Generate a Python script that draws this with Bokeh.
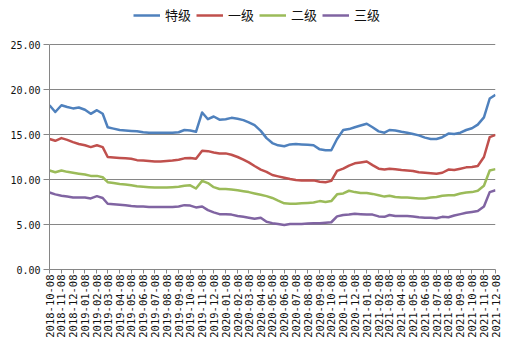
import math
import datetime as dt
from bokeh.plotting import figure
from bokeh.models import (Range1d, FixedTicker, DatetimeTickFormatter, NumeralTickFormatter,
                          Legend, LegendItem)
from bokeh.embed import file_html
from bokeh.resources import INLINE

# ---------------- data ----------------
dates = [
    "2018-10-08", "2018-10-23", "2018-11-08", "2018-11-23", "2018-12-08", "2018-12-23",
    "2019-01-08", "2019-01-23", "2019-02-08", "2019-02-23", "2019-03-08", "2019-03-23",
    "2019-04-08", "2019-04-23", "2019-05-08", "2019-05-23", "2019-06-08", "2019-06-23",
    "2019-07-08", "2019-07-23", "2019-08-08", "2019-08-23", "2019-09-08", "2019-09-23",
    "2019-10-08", "2019-10-23", "2019-11-08", "2019-11-23", "2019-12-08", "2019-12-23",
    "2020-01-08", "2020-01-23", "2020-02-08", "2020-02-23", "2020-03-08", "2020-03-23",
    "2020-04-08", "2020-04-23", "2020-05-08", "2020-05-23", "2020-06-08", "2020-06-23",
    "2020-07-08", "2020-07-23", "2020-08-08", "2020-08-23", "2020-09-08", "2020-09-23",
    "2020-10-08", "2020-10-23", "2020-11-08", "2020-11-23", "2020-12-08", "2020-12-23",
    "2021-01-08", "2021-01-23", "2021-02-08", "2021-02-23", "2021-03-08", "2021-03-23",
    "2021-04-08", "2021-04-23", "2021-05-08", "2021-05-23", "2021-06-08", "2021-06-23",
    "2021-07-08", "2021-07-23", "2021-08-08", "2021-08-23", "2021-09-08", "2021-09-23",
    "2021-10-08", "2021-10-23", "2021-11-08", "2021-11-23", "2021-12-08",
]

tick_labels = [
    "2018-10-08", "2018-11-08", "2018-12-08", "2019-01-08", "2019-02-08", "2019-03-08",
    "2019-04-08", "2019-05-08", "2019-06-08", "2019-07-08", "2019-08-08", "2019-09-08",
    "2019-10-08", "2019-11-08", "2019-12-08", "2020-01-08", "2020-02-08", "2020-03-08",
    "2020-04-08", "2020-05-08", "2020-06-08", "2020-07-08", "2020-08-08", "2020-09-08",
    "2020-10-08", "2020-11-08", "2020-12-08", "2021-01-08", "2021-02-08", "2021-03-08",
    "2021-04-08", "2021-05-08", "2021-06-08", "2021-07-08", "2021-08-08", "2021-09-08",
    "2021-10-08", "2021-11-08", "2021-12-08",
]

y_ticks = [0, 5, 10, 15, 20, 25]

series_names = ["特级", "一级", "二级", "三级"]

te_ji = [
    18.25, 17.5, 18.25, 18.05, 17.9, 18.0, 17.75, 17.3, 17.7, 17.3,
    15.8, 15.65, 15.5, 15.45, 15.4, 15.35, 15.25, 15.2, 15.2, 15.2,
    15.2, 15.2, 15.25, 15.5, 15.45, 15.3, 17.45, 16.7, 17.0, 16.65,
    16.7, 16.85, 16.75, 16.6, 16.35, 16.05, 15.4, 14.6, 14.05, 13.8,
    13.7, 13.9, 13.95, 13.9, 13.85, 13.8, 13.35, 13.25, 13.25, 14.5,
    15.5, 15.6, 15.8, 16.0, 16.2, 15.8, 15.35, 15.2, 15.5, 15.45,
    15.3, 15.2, 15.05, 14.9, 14.65, 14.5, 14.5, 14.7, 15.1, 15.05,
    15.2, 15.5, 15.7, 16.1, 16.9, 19.0, 19.4,
]

yi_ji = [
    14.5, 14.3, 14.6, 14.4, 14.15, 13.95, 13.8, 13.6, 13.8, 13.6,
    12.5, 12.45, 12.4, 12.35, 12.3, 12.15, 12.1, 12.05, 12.0, 12.0,
    12.05, 12.1, 12.2, 12.35, 12.4, 12.3, 13.2, 13.15, 13.0, 12.9,
    12.9, 12.75, 12.5, 12.2, 11.9, 11.5, 11.1, 10.85, 10.5, 10.35,
    10.2, 10.05, 9.95, 9.9, 9.9, 9.9, 9.75, 9.7, 9.85, 10.95,
    11.2, 11.55, 11.8, 11.9, 12.0, 11.6, 11.2, 11.1, 11.2, 11.15,
    11.05, 11.0, 10.95, 10.8, 10.75, 10.7, 10.65, 10.75, 11.1, 11.05,
    11.2, 11.35, 11.4, 11.5, 12.5, 14.7, 14.95,
]

er_ji = [
    11.0, 10.8, 11.0, 10.85, 10.75, 10.65, 10.55, 10.4, 10.4, 10.25,
    9.7, 9.6, 9.5, 9.45, 9.35, 9.25, 9.2, 9.15, 9.1, 9.1,
    9.1, 9.15, 9.2, 9.3, 9.35, 9.0, 9.85, 9.6, 9.15, 8.95,
    8.95, 8.9, 8.8, 8.7, 8.6, 8.45, 8.3, 8.15, 7.95, 7.65,
    7.35, 7.3, 7.3, 7.35, 7.4, 7.45, 7.6, 7.5, 7.6, 8.35,
    8.45, 8.75, 8.6, 8.5, 8.5, 8.4, 8.25, 8.1, 8.2, 8.05,
    8.0, 8.0, 7.95, 7.9, 7.9, 8.0, 8.05, 8.2, 8.25, 8.25,
    8.45, 8.55, 8.6, 8.75, 9.3, 11.0, 11.15,
]

san_ji = [
    8.55, 8.35, 8.2, 8.1, 8.0, 8.0, 8.0, 7.9, 8.15, 7.95,
    7.3, 7.25, 7.2, 7.15, 7.05, 7.0, 7.0, 6.95, 6.95, 6.95,
    6.95, 6.95, 7.0, 7.15, 7.1, 6.9, 7.0, 6.6, 6.35, 6.15,
    6.15, 6.1, 5.95, 5.85, 5.75, 5.65, 5.75, 5.3, 5.15, 5.05,
    4.95, 5.05, 5.05, 5.05, 5.1, 5.15, 5.15, 5.2, 5.25, 5.9,
    6.05, 6.1, 6.2, 6.15, 6.1, 6.1, 5.9, 5.85, 6.05, 5.95,
    5.95, 5.95, 5.9, 5.8, 5.75, 5.75, 5.7, 5.85, 5.8, 6.0,
    6.15, 6.3, 6.4, 6.5, 7.0, 8.6, 8.8,
]

colors = ["#4F81BD", "#C0504D", "#9BBB59", "#8064A2"]

# ---------------- plot ----------------
def to_dt(s):
    return dt.datetime.strptime(s, "%Y-%m-%d")

EPOCH = dt.datetime(1970, 1, 1)

def to_ms(s):
    return (to_dt(s) - EPOCH).total_seconds() * 1000.0

W, H = 511, 354
BORDER_BOTTOM = 85
PLOT_TOP_PX = 44          # pixel row of the top (25.00) gridline
frame_h = H - BORDER_BOTTOM
y_max = max(y_ticks)
# extend the y range above 25 so that the legend sits inside the frame, above the 25 gridline
y_top = y_max * frame_h / (frame_h - PLOT_TOP_PX)

x = [to_dt(d) for d in dates]

p = figure(width=W, height=H, x_axis_type="datetime",
           output_backend="svg", toolbar_location=None,
           x_range=Range1d(to_dt(tick_labels[0]), to_dt(tick_labels[-1])),
           y_range=Range1d(0, y_top),
           min_border_left=49, min_border_right=16,
           min_border_top=0, min_border_bottom=BORDER_BOTTOM)

p.outline_line_color = None
p.background_fill_color = "white"
p.border_fill_color = "white"

grey = "#868686"

# y axis
p.yaxis.ticker = FixedTicker(ticks=y_ticks)
p.yaxis.bounds = (0, y_max)
p.yaxis.formatter = NumeralTickFormatter(format="0.00")
p.yaxis.axis_line_color = grey
p.yaxis.major_tick_line_color = grey
p.yaxis.major_tick_out = 6
p.yaxis.major_tick_in = 0
p.yaxis.minor_tick_line_color = None
p.yaxis.major_label_standoff = 3
p.yaxis.major_label_text_font = "DejaVu Sans Mono"
p.yaxis.major_label_text_font_size = "10px"
p.yaxis.major_label_text_color = "#111111"

# x axis
p.xaxis.ticker = FixedTicker(ticks=[to_ms(t) for t in tick_labels])
fmt = "%Y-%m-%d"
p.xaxis.formatter = DatetimeTickFormatter(days=fmt, months=fmt, years=fmt,
                                          hours=fmt, hourmin=fmt)
p.xaxis.major_label_orientation = math.pi / 2
p.xaxis.axis_line_color = grey
p.xaxis.major_tick_line_color = grey
p.xaxis.major_tick_out = 4
p.xaxis.major_tick_in = 0
p.xaxis.minor_tick_line_color = None
p.xaxis.major_label_standoff = 1
p.xaxis.major_label_text_font = "DejaVu Sans Mono"
p.xaxis.major_label_text_font_size = "10.5px"
p.xaxis.major_label_text_color = "#111111"

# grid
p.xgrid.visible = False
p.ygrid.ticker = FixedTicker(ticks=y_ticks)
p.ygrid.grid_line_color = grey
p.ygrid.grid_line_width = 1

items = []
for name, vals, c in zip(series_names, [te_ji, yi_ji, er_ji, san_ji], colors):
    r = p.line(x, vals, line_width=2.5, line_color=c, line_join="round")
    items.append(LegendItem(label=name, renderers=[r]))

legend = Legend(items=items, orientation="horizontal", location=(84, frame_h - 24),
                background_fill_alpha=0, border_line_color=None,
                padding=0, margin=0, spacing=5, glyph_width=27, glyph_height=16,
                label_height=16, label_standoff=5,
                label_text_font="Noto Sans CJK SC", label_text_font_size="13px",
                label_text_color="#111111")
p.add_layout(legend)

open("out.html", "w").write(file_html(p, INLINE))
